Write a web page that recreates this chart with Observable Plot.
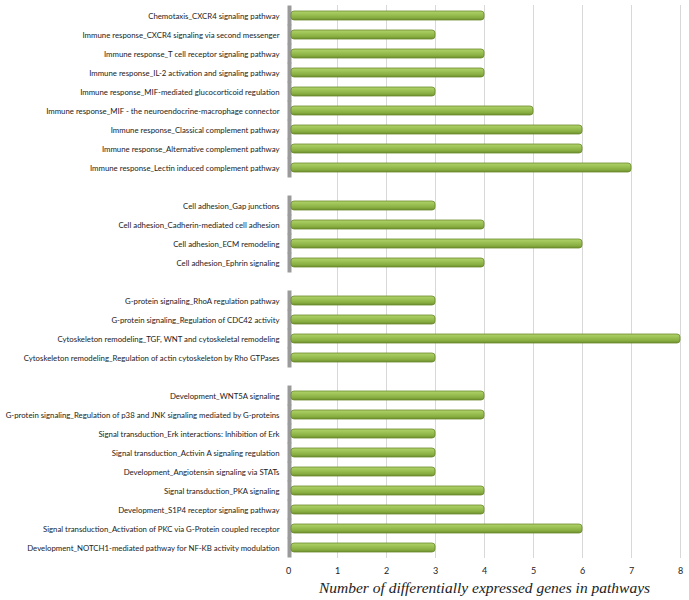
<!DOCTYPE html>
<html>
<head>
<meta charset="utf-8">
<script src="https://cdn.jsdelivr.net/npm/d3@7"></script>
<script src="https://cdn.jsdelivr.net/npm/@observablehq/plot@0.6"></script>
<style>
  html, body { margin: 0; padding: 0; background: #fff; }
  #chart svg { display: block; }
</style>
</head>
<body>
<div id="chart"></div>
<script>
const immunePathways = [
  "Chemotaxis_CXCR4 signaling pathway",
  "Immune response_CXCR4 signaling via second messenger",
  "Immune response_T cell receptor signaling pathway",
  "Immune response_IL-2 activation and signaling pathway",
  "Immune response_MIF-mediated glucocorticoid regulation",
  "Immune response_MIF - the neuroendocrine-macrophage connector",
  "Immune response_Classical complement pathway",
  "Immune response_Alternative complement pathway",
  "Immune response_Lectin induced complement pathway"
];
const immuneValues = [4, 3, 4, 4, 3, 5, 6, 6, 7];

const adhesionPathways = [
  "Cell adhesion_Gap junctions",
  "Cell adhesion_Cadherin-mediated cell adhesion",
  "Cell adhesion_ECM remodeling",
  "Cell adhesion_Ephrin signaling"
];
const adhesionValues = [3, 4, 6, 4];

const cytoPathways = [
  "G-protein signaling_RhoA regulation pathway",
  "G-protein signaling_Regulation of CDC42 activity",
  "Cytoskeleton remodeling_TGF, WNT and cytoskeletal remodeling",
  "Cytoskeleton remodeling_Regulation of actin cytoskeleton by Rho GTPases"
];
const cytoValues = [3, 3, 8, 3];

const signalPathways = [
  "Development_WNT5A signaling",
  "G-protein signaling_Regulation of p38 and JNK signaling mediated by G-proteins",
  "Signal transduction_Erk interactions: Inhibition of Erk",
  "Signal transduction_Activin A signaling regulation",
  "Development_Angiotensin signaling via STATs",
  "Signal transduction_PKA signaling",
  "Development_S1P4 receptor signaling pathway",
  "Signal transduction_Activation of PKC via G-Protein coupled receptor",
  "Development_NOTCH1-mediated pathway for NF-KB activity modulation"
];
const signalValues = [4, 4, 3, 3, 3, 4, 4, 6, 3];

const xTicks = [0, 1, 2, 3, 4, 5, 6, 7, 8];
const xLabel = "Number of differentially expressed genes in pathways";

const groups = [
  [immunePathways, immuneValues],
  [adhesionPathways, adhesionValues],
  [cytoPathways, cytoValues],
  [signalPathways, signalValues]
];

const data = [];
const domain = [];
groups.forEach(([names, vals], gi) => {
  if (gi > 0) domain.push("gap" + gi);
  names.forEach((n, i) => { data.push({name: n, value: vals[i]}); domain.push(n); });
});

const defs = () => {
  const ns = "http://www.w3.org/2000/svg";
  const d = document.createElementNS(ns, "defs");
  d.innerHTML = `<linearGradient id="barGrad" x1="0" y1="0" x2="0" y2="1">
      <stop offset="0" stop-color="#b0d26a"/>
      <stop offset="0.35" stop-color="#9dc356"/>
      <stop offset="0.75" stop-color="#87ac3f"/>
      <stop offset="1" stop-color="#6c8d2e"/>
    </linearGradient>`;
  return d;
};

const plot = Plot.plot({
  width: 689,
  height: 600,
  marginLeft: 288,
  marginRight: 9,
  marginTop: 5,
  marginBottom: 42,
  style: {fontFamily: "Lato, 'Open Sans', sans-serif", fontSize: "7.8px", color: "#222", background: "#fff"},
  x: {domain: [0, 8], ticks: xTicks, label: null},
  y: {domain, paddingInner: 0.55, paddingOuter: 0.3, label: null},
  marks: [
    defs,
    Plot.ruleX(xTicks.slice(1), {stroke: "#d8d8d8", strokeWidth: 1}),
    Plot.tickX(data, {x: 0, y: "name", stroke: "#9a9a9a", strokeWidth: 4, dx: 1, insetTop: -5.5, insetBottom: -5.5}),
    Plot.barX(data, {y: "name", x: "value", fill: "url(#barGrad)", stroke: "#6a8a2c", strokeWidth: 0.8, rx: 3, insetLeft: 3}),
    Plot.axisX({ticks: xTicks, tickSize: 0, tickPadding: 9, fontSize: 9, fill: "#222"}),
    Plot.axisY({tickSize: 0, tickPadding: 9, tickFormat: d => d.startsWith("gap") ? "" : d}),
    Plot.text([xLabel], {frameAnchor: "bottom", dy: 34, text: d => d, fontFamily: "'Liberation Serif', 'Times New Roman', serif", fontStyle: "italic", fontSize: 15.5, fill: "#222"})
  ]
});
document.getElementById("chart").appendChild(plot);
</script>
</body>
</html>
